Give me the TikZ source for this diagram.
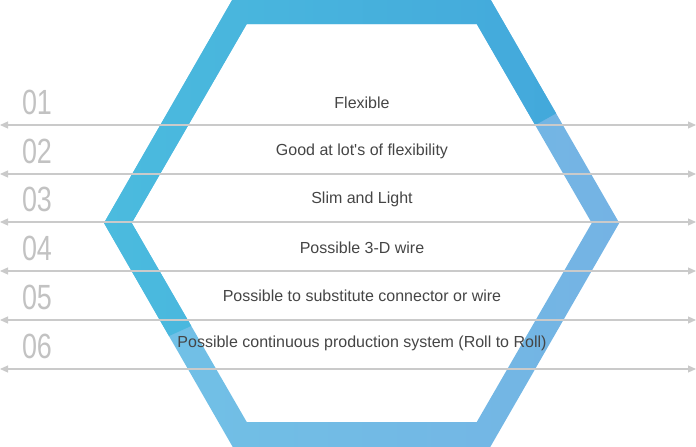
\documentclass[tikz,border=0pt]{standalone}
\usepackage{fontspec}
\setmainfont{Liberation Sans}[Ligatures=TeXOff]
\usetikzlibrary{arrows.meta}
\definecolor{upL}{HTML}{4BBBDE}
\definecolor{upR}{HTML}{42A6DB}
\definecolor{loL}{HTML}{70C2E6}
\definecolor{loR}{HTML}{74B3E4}
\definecolor{linegray}{HTML}{CACACA}
\definecolor{numgray}{HTML}{C2C2C2}
\definecolor{txtgray}{HTML}{454545}
\tikzset{
  rowline/.style={draw=linegray, line width=1.1pt, {Triangle[length=8pt,width=7pt]}-{Triangle[length=8pt,width=7pt]}},
  numlabel/.style={text=numgray, font=\fontsize{35}{35}\selectfont, inner sep=0pt, anchor=center},
  itemlabel/.style={text=txtgray, font=\fontsize{16}{17}\selectfont, inner sep=0pt, anchor=center}
}
\newcommand{\condnum}[1]{\scalebox{0.77}[1]{#1}}
\begin{document}
\begin{tikzpicture}[x=1pt,y=-1pt]
\useasboundingbox (0,0) rectangle (696,447);
% hexagon ring
\begin{scope}[even odd rule]
  \clip (104,223) -- (232.75,-1) -- (490.25,-1) -- (619.25,223) -- (490.25,447) -- (232.75,447) -- cycle
        (131.75,223) -- (246.75,24) -- (476.75,24) -- (591.75,223) -- (476.75,422) -- (246.75,422) -- cycle;
  \shade[left color=loL, right color=loR] (104,-5) rectangle (620,452);
  \clip (-10,-10) -- (710,-10) -- (710,20) -- (555,114) -- (530,128) -- (361,223) -- (200,322) -- (169,336) -- (-10,416) -- cycle;
  \shade[left color=upL, right color=upR] (104,-5) rectangle (620,452);
\end{scope}
% row lines
\foreach \i/\y in {1/125,2/174,3/222,4/271,5/320,6/369}{
  \coordinate (l\i) at (0,\y);
  \coordinate (r\i) at (696,\y);
  \draw[rowline] (l\i) -- (r\i);
}
% numbers
\node[numlabel] (n1) at (37,102) {\condnum{01}};
\node[numlabel] (n2) at (37,151) {\condnum{02}};
\node[numlabel] (n3) at (37,199) {\condnum{03}};
\node[numlabel] (n4) at (37,248) {\condnum{04}};
\node[numlabel] (n5) at (37,297) {\condnum{05}};
\node[numlabel] (n6) at (37,346) {\condnum{06}};
% items
\node[itemlabel] (t1) at (362,102.5) {Flexible};
\node[itemlabel] (t2) at (362,151) {Good at lot's of flexibility};
\node[itemlabel] (t3) at (362,199.5) {Slim and Light};
\node[itemlabel] (t4) at (362,247.5) {Possible 3-D wire};
\node[itemlabel] (t5) at (362,295.5) {Possible to substitute connector or wire};
\node[itemlabel] (t6) at (362,343) {Possible continuous production system (Roll to Roll)};
\end{tikzpicture}
\end{document}
